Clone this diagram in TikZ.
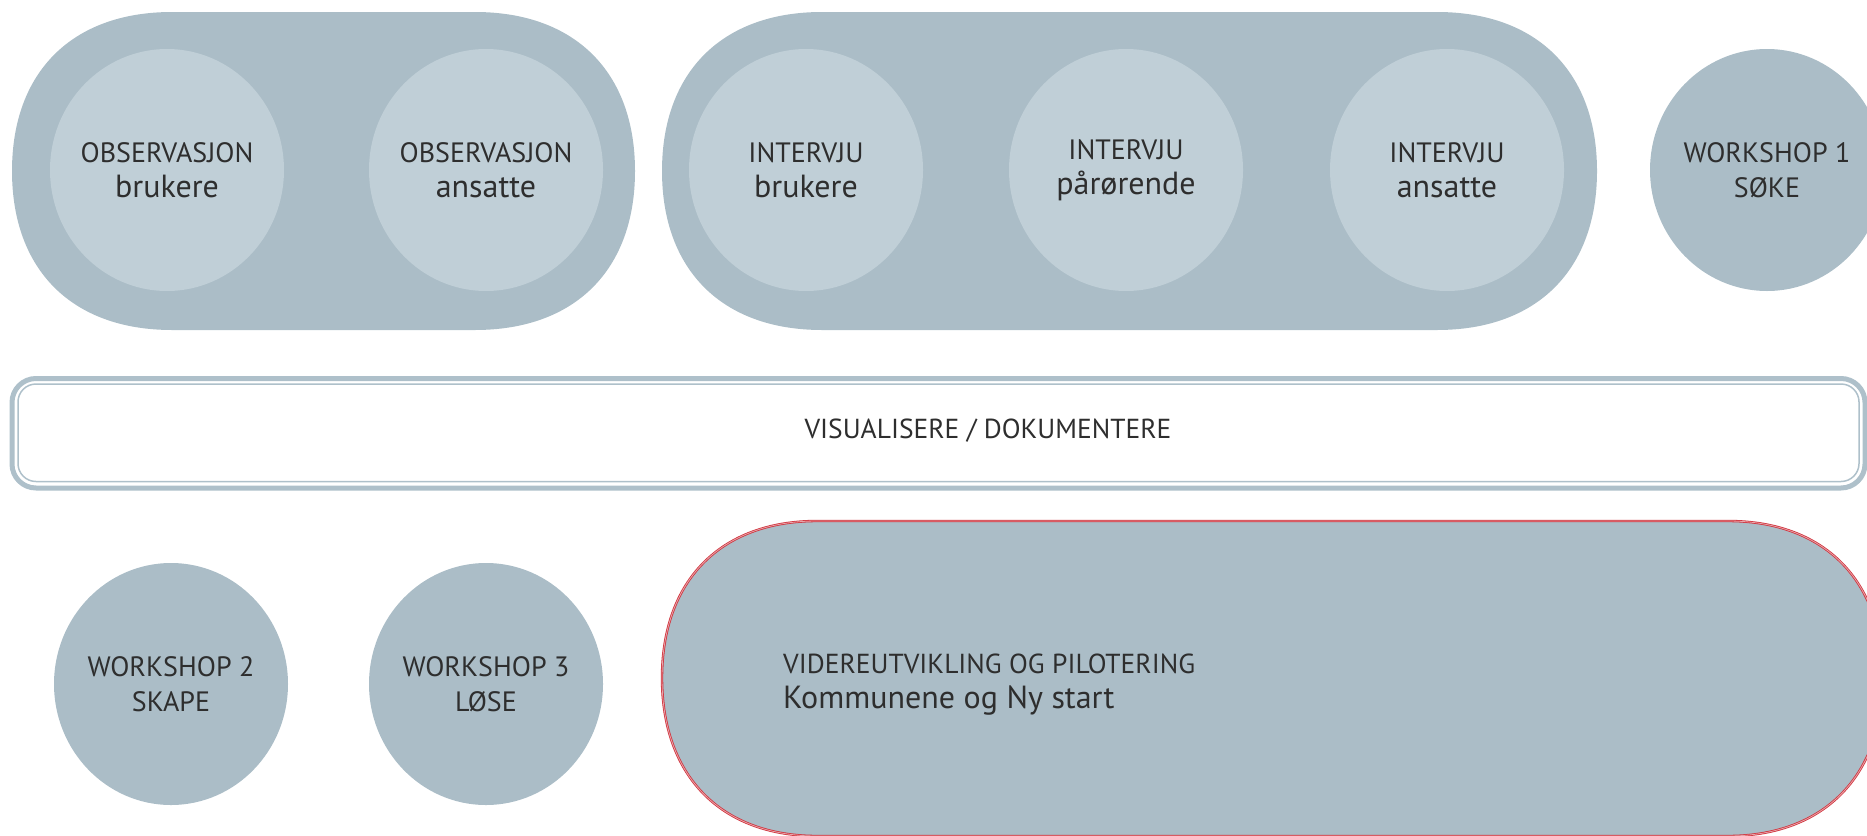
\documentclass[tikz,border=0pt]{standalone}
\usepackage{fontspec}
\setmainfont{PT Sans}
\usetikzlibrary{shapes.geometric}
\definecolor{pillc}{HTML}{ABBDC7}
\definecolor{lightc}{HTML}{C0CFD7}
\definecolor{bandc}{HTML}{AEC0CA}
\definecolor{txtc}{HTML}{2E2E2E}
\definecolor{redc}{HTML}{D0343E}
\definecolor{pinkc}{HTML}{E9A3A9}
\newcommand\lowtxt[1]{{\fontsize{32}{35}\selectfont #1}}
\begin{document}
\begin{tikzpicture}[x=1pt,y=-1pt,
  lbl/.style={text=txtc, font=\fontsize{28}{35}\selectfont, align=center, inner sep=0pt},
  lightbub/.style={ellipse, fill=lightc, minimum width=234pt, minimum height=242pt, inner sep=0pt},
  wshop/.style={ellipse, fill=pillc, minimum width=234pt, minimum height=242pt, inner sep=0pt},
  pill/.style={fill=pillc},
  redpill/.style={fill=pillc, draw=redc, double=pinkc, line width=0.8pt, double distance=0.8pt},
  bandouter/.style={draw=bandc, line width=5pt, rounded corners=24pt},
  bandinner/.style={draw=bandc, line width=1.5pt, rounded corners=18pt},
]
\useasboundingbox (0,0) rectangle (1867,835);
\clip (0,0) rectangle (1867,835);

% top-left pill
\fill[pill] (12,171) .. controls (12,72) and (72,12) .. (172,12) -- (475,12)
  .. controls (575,12) and (635,72) .. (635,171)
  .. controls (635,270) and (575,330) .. (475,330) -- (172,330)
  .. controls (72,330) and (12,270) .. cycle;
% top-middle pill
\fill[pill] (662,171) .. controls (662,72) and (722,12) .. (822,12) -- (1437,12)
  .. controls (1537,12) and (1597,72) .. (1597,171)
  .. controls (1597,270) and (1537,330) .. (1437,330) -- (822,330)
  .. controls (722,330) and (662,270) .. cycle;

% inner bubbles
\node[lightbub] (ob) at (167,170) {};
\node[lightbub] (oa) at (486,170) {};
\node[lightbub] (ib) at (806,170) {};
\node[lightbub] (ip) at (1126,170) {};
\node[lightbub] (ia) at (1447,170) {};
\node[wshop] (w1) at (1767,170) {};

\node[lbl] (tob) at (ob.center) {OBSERVASJON\\\lowtxt{brukere}};
\node[lbl] (toa) at (oa.center) {OBSERVASJON\\\lowtxt{ansatte}};
\node[lbl] (tib) at (ib.center) {INTERVJU\\\lowtxt{brukere}};
\node[lbl] (tip) at (ip.center) {INTERVJU\\\lowtxt{pårørende}};
\node[lbl] (tia) at (ia.center) {INTERVJU\\\lowtxt{ansatte}};
\node[lbl] (tw1) at (w1.center) {WORKSHOP 1\\SØKE};

% band
\draw[bandouter] (12,378.5) rectangle (1865,488);
\draw[bandinner] (18,384) rectangle (1859,481.5);
\node[lbl, font=\fontsize{27.5}{35}\selectfont] (band) at (988,431) {VISUALISERE / DOKUMENTERE};

% bottom workshops
\node[wshop] (w2) at (171,684) {};
\node[wshop] (w3) at (486,684) {};
\node[lbl] (tw2) at (w2.center) {WORKSHOP 2\\SKAPE};
\node[lbl] (tw3) at (w3.center) {WORKSHOP 3\\LØSE};

% red pill
\path[redpill] (662,678) .. controls (662,580) and (721,521) .. (817,521) -- (1728,521)
  .. controls (1824,521) and (1883,580) .. (1883,678)
  .. controls (1883,776) and (1824,836) .. (1728,836) -- (817,836)
  .. controls (721,836) and (662,776) .. cycle;
\node[lbl, font=\fontsize{27.5}{35}\selectfont, align=left, anchor=west] (vid) at (783,685) {VIDEREUTVIKLING OG PILOTERING\\\lowtxt{Kommunene og Ny start}};
\end{tikzpicture}
\end{document}
